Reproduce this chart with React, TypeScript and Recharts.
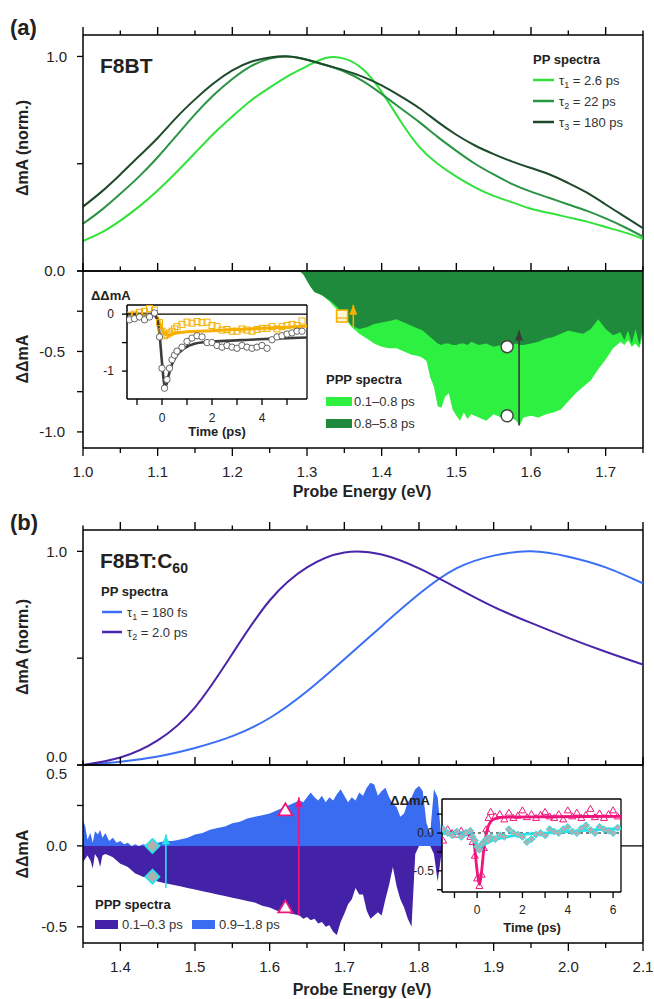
import React from 'react';
import { ComposedChart, Line, Area, Scatter, XAxis, YAxis, ReferenceLine, ReferenceDot } from 'recharts';

const FONT = '"Liberation Sans", Arial, Helvetica, sans-serif';
const INK = '#222';

const C_T1 = '#30e23a';
const C_T2 = '#2a9444';
const C_T3 = '#1d4a2b';
const C_FAST = '#2ef040';
const C_SLOW = '#1f8a3b';
const C_BLUE = '#3b6ff5';
const C_PURPLE = '#4a25aa';
const C_FILL_BLUE = '#3a6cf2';
const C_FILL_PURPLE = '#4322a8';
const C_ORANGE = '#f5b000';
const C_GRAY = '#3d3d3d';
const C_PINK = '#f0157c';
const C_CYAN = '#25e3ea';
const C_DIAMOND = '#b0b0b0';

const PP_A_E = [1.0, 1.025, 1.05, 1.075, 1.1, 1.125, 1.15, 1.175, 1.2, 1.225, 1.25, 1.275, 1.3, 1.325, 1.35, 1.375,
  1.4, 1.425, 1.45, 1.475, 1.5, 1.525, 1.55, 1.575, 1.6, 1.625, 1.65, 1.675, 1.7, 1.725, 1.75];
const PP_A_T1 = [0.14, 0.18, 0.235, 0.3, 0.375, 0.46, 0.55, 0.64, 0.72, 0.795, 0.855, 0.91, 0.955, 0.993, 0.99, 0.94,
  0.835, 0.7, 0.58, 0.5, 0.44, 0.39, 0.35, 0.32, 0.29, 0.27, 0.25, 0.23, 0.205, 0.18, 0.15];
const PP_A_T2 = [0.22, 0.285, 0.36, 0.44, 0.53, 0.63, 0.73, 0.82, 0.895, 0.955, 0.99, 1.0, 0.985, 0.96, 0.93, 0.885,
  0.825, 0.76, 0.695, 0.625, 0.56, 0.5, 0.45, 0.405, 0.37, 0.34, 0.31, 0.28, 0.245, 0.205, 0.16];
const PP_A_T3 = [0.3, 0.37, 0.45, 0.535, 0.62, 0.715, 0.8, 0.875, 0.935, 0.975, 0.995, 1.0, 0.985, 0.96, 0.935, 0.905,
  0.865, 0.815, 0.76, 0.695, 0.635, 0.585, 0.545, 0.51, 0.48, 0.45, 0.41, 0.365, 0.31, 0.255, 0.2];
const PP_A_LEGEND = [
  { n: '1', text: '2.6 ps', color: C_T1 },
  { n: '2', text: '22 ps', color: C_T2 },
  { n: '3', text: '180 ps', color: C_T3 },
];

const PPP_A_E = [
  1.29, 1.295, 1.3, 1.305, 1.31, 1.32, 1.33, 1.34, 1.35, 1.36,
  1.37, 1.38, 1.39, 1.4, 1.41, 1.42, 1.43, 1.44, 1.45, 1.455,
  1.46, 1.465, 1.47, 1.475, 1.48, 1.485, 1.49, 1.495, 1.5, 1.505,
  1.51, 1.515, 1.52, 1.53, 1.54, 1.55, 1.56, 1.57, 1.58, 1.585,
  1.59, 1.6, 1.61, 1.62, 1.63, 1.64, 1.65, 1.66, 1.67, 1.68,
  1.69, 1.7, 1.71, 1.72, 1.725, 1.73, 1.735, 1.74, 1.745, 1.75,
];
const PPP_A_FAST = [
  0, -0.02, -0.06, -0.1, -0.13, -0.15, -0.19, -0.24, -0.29, -0.35,
  -0.39, -0.42, -0.45, -0.47, -0.48, -0.48, -0.5, -0.52, -0.53, -0.54,
  -0.56, -0.66, -0.72, -0.84, -0.85, -0.78, -0.76, -0.86, -0.9, -0.93,
  -0.88, -0.92, -0.89, -0.91, -0.93, -0.89, -0.91, -0.9, -0.93, -0.96,
  -0.91, -0.9, -0.91, -0.89, -0.88, -0.86, -0.81, -0.76, -0.72, -0.68,
  -0.61, -0.55, -0.48, -0.44, -0.46, -0.43, -0.47, -0.45, -0.48, -0.4,
];
const PPP_A_SLOW = [
  0, -0.02, -0.06, -0.1, -0.13, -0.15, -0.18, -0.22, -0.28, -0.34,
  -0.36, -0.35, -0.33, -0.32, -0.31, -0.3, -0.32, -0.34, -0.36, -0.37,
  -0.39, -0.41, -0.43, -0.45, -0.46, -0.45, -0.45, -0.46, -0.46, -0.45,
  -0.45, -0.46, -0.44, -0.46, -0.45, -0.47, -0.46, -0.47, -0.45, -0.46,
  -0.46, -0.45, -0.44, -0.42, -0.41, -0.39, -0.37, -0.38, -0.39, -0.36,
  -0.3, -0.36, -0.4, -0.38, -0.43, -0.37, -0.45, -0.36, -0.46, -0.35,
];
const PPP_A_LEGEND = [
  { text: '0.1–0.8 ps', color: C_FAST },
  { text: '0.8–5.8 ps', color: C_SLOW },
];
const A_CIRCLES = [{ x: 1.568, y: -0.47 }, { x: 1.568, y: -0.9 }];
const A_SQUARES = [{ x: 1.347, y: -0.28 }];
const A_ARROWS = [
  { x: 1.362, y0: -0.35, y1: -0.21, color: C_ORANGE },
  { x: 1.584, y0: -0.96, y1: -0.37, color: '#3a3a3a' },
];

const IA_T = [-1.3, -1.1, -0.9, -0.7, -0.5, -0.3, -0.1, 0.0, 0.1, 0.2, 0.3, 0.4, 0.5, 0.6,
  0.8, 1.0, 1.2, 1.4, 1.6, 1.8, 2.0, 2.2, 2.4, 2.6, 2.8, 3.0, 3.2, 3.4, 3.6, 3.8, 4.0, 4.2, 4.4, 4.6, 4.8, 5.0, 5.2, 5.4, 5.6];
const IA_ORANGE = [-0.02, 0.0, 0.03, 0.05, 0.1, 0.07, -0.15, -0.3, -0.38, -0.36, -0.33, -0.3, -0.26, -0.22,
  -0.18, -0.14, -0.16, -0.13, -0.15, -0.14, -0.2, -0.22, -0.28, -0.27, -0.3, -0.3, -0.26, -0.28, -0.3, -0.27, -0.25, -0.25, -0.22, -0.26, -0.22, -0.2, -0.18, -0.2, -0.12];
const IA_GRAY = [-0.1, -0.08, -0.05, -0.1, -0.05, 0.02, -0.4, -0.95, -1.3, -1.15, -0.95, -0.8, -0.72, -0.65,
  -0.58, -0.48, -0.42, -0.38, -0.4, -0.5, -0.5, -0.55, -0.58, -0.55, -0.58, -0.6, -0.55, -0.58, -0.6, -0.58, -0.55, -0.6, -0.45, -0.4, -0.38, -0.35, -0.33, -0.3, -0.3];
const IA_FIT_GRAY_T = [-1.4, -0.4, -0.2, -0.1, 0, 0.1, 0.15, 0.25, 0.4, 0.6, 0.9, 1.3, 1.8, 2.5, 3.5, 4.5, 5.8];
const IA_FIT_GRAY_V = [0, 0, -0.08, -0.35, -0.85, -1.25, -1.27, -1.1, -0.88, -0.72, -0.6, -0.52, -0.49, -0.47, -0.45, -0.43, -0.41];
const IA_FIT_OR_T = [-1.4, -0.4, -0.2, -0.05, 0.1, 0.25, 0.5, 1.0, 2, 3, 4, 5, 5.8];
const IA_FIT_OR_V = [0, 0, -0.05, -0.2, -0.35, -0.37, -0.34, -0.31, -0.29, -0.27, -0.25, -0.23, -0.21];

const PP_B_E = [1.35, 1.4, 1.45, 1.5, 1.55, 1.6, 1.65, 1.7, 1.75, 1.8, 1.85, 1.9, 1.95, 2.0, 2.05, 2.1];
const PP_B_T1 = [0.0, 0.015, 0.04, 0.08, 0.135, 0.22, 0.345, 0.495, 0.65, 0.8, 0.92, 0.98, 1.0, 0.975, 0.925, 0.85];
const PP_B_T2 = [0.0, 0.035, 0.115, 0.27, 0.52, 0.77, 0.925, 0.995, 0.985, 0.92, 0.83, 0.74, 0.665, 0.595, 0.53, 0.47];
const PP_B_LEGEND = [
  { n: '1', text: '180 fs', color: C_BLUE },
  { n: '2', text: '2.0 ps', color: C_PURPLE },
];

const PPP_B_E = [
  1.35, 1.353, 1.356, 1.36, 1.363, 1.366, 1.37, 1.373, 1.376, 1.38,
  1.385, 1.39, 1.395, 1.4, 1.405, 1.41, 1.415, 1.42, 1.425, 1.43,
  1.44, 1.45, 1.46, 1.47, 1.48, 1.49, 1.5, 1.51, 1.52, 1.53,
  1.54, 1.55, 1.56, 1.57, 1.58, 1.59, 1.6, 1.61, 1.62, 1.63,
  1.64, 1.645, 1.65, 1.655, 1.66, 1.665, 1.67, 1.675, 1.68, 1.685,
  1.69, 1.695, 1.7, 1.705, 1.71, 1.715, 1.72, 1.725, 1.73, 1.735,
  1.74, 1.745, 1.75, 1.755, 1.76, 1.765, 1.77, 1.775, 1.78, 1.785,
  1.79, 1.795, 1.8, 1.805, 1.81, 1.815, 1.82, 1.825, 1.83, 1.84,
];
const PPP_B_LATE = [
  0.16, 0.12, 0.04, 0.08, 0.02, 0.09, 0.07, 0.1, 0.05, 0.08,
  0.03, 0.05, 0.02, 0.03, 0.01, 0.02, 0.0, 0.01, 0.0, 0.01,
  0.0, 0.02, 0.03, 0.03, 0.04, 0.05, 0.07, 0.08, 0.1, 0.11,
  0.12, 0.14, 0.15, 0.17, 0.18, 0.19, 0.2, 0.22, 0.24, 0.26,
  0.28, 0.27, 0.3, 0.33, 0.3, 0.28, 0.31, 0.27, 0.3, 0.28,
  0.32, 0.35, 0.31, 0.27, 0.3, 0.28, 0.33, 0.31, 0.36, 0.39,
  0.38, 0.31, 0.34, 0.36, 0.3, 0.26, 0.24, 0.18, 0.2, 0.27,
  0.3, 0.35, 0.37, 0.34, 0.14, 0.08, 0.35, 0.3, 0.05, 0.1,
];
const PPP_B_EARLY = [
  -0.1, -0.08, -0.06, -0.09, -0.14, -0.05, -0.08, -0.13, -0.06, -0.05,
  -0.06, -0.07, -0.09, -0.11, -0.12, -0.13, -0.15, -0.17, -0.18, -0.19,
  -0.2, -0.22, -0.23, -0.24, -0.25, -0.26, -0.27, -0.28, -0.29, -0.3,
  -0.31, -0.32, -0.33, -0.34, -0.35, -0.37, -0.38, -0.4, -0.41, -0.42,
  -0.43, -0.45, -0.44, -0.46, -0.45, -0.48, -0.47, -0.5, -0.49, -0.53,
  -0.55, -0.47, -0.42, -0.36, -0.33, -0.26, -0.3, -0.3, -0.4, -0.45,
  -0.43, -0.41, -0.43, -0.33, -0.24, -0.13, -0.25, -0.33, -0.38, -0.45,
  -0.5, -0.05, 0, 0, 0, 0, -0.05, -0.22, -0.05, 0,
];
const PPP_B_LEGEND = [
  { text: '0.1–0.3 ps', color: C_FILL_PURPLE },
  { text: '0.9–1.8 ps', color: C_FILL_BLUE },
];
const B_DIAMONDS = [{ x: 1.443, y: 0.0 }, { x: 1.443, y: -0.19 }];
const B_TRIANGLES = [{ x: 1.621, y: 0.22 }, { x: 1.621, y: -0.38 }];
const B_ARROWS = [
  { x: 1.461, y0: -0.26, y1: 0.07, color: C_CYAN },
  { x: 1.639, y0: -0.43, y1: 0.3, color: C_PINK },
];

const IB_T = [-1.5, -1.3, -1.1, -0.9, -0.7, -0.5, -0.3, -0.2, -0.1, 0.0, 0.1, 0.2, 0.3, 0.4, 0.5, 0.6,
  0.8, 1.0, 1.2, 1.4, 1.6, 1.8, 2.0, 2.2, 2.4, 2.6, 2.8, 3.0, 3.2, 3.4, 3.6, 3.8, 4.0, 4.2, 4.4, 4.6, 4.8, 5.0, 5.2, 5.4, 5.6, 5.8, 6.0, 6.2];
const IB_PINK = [-0.1, 0.05, 0.0, -0.02, 0.03, 0.0, -0.05, -0.12, -0.3, -0.6, -0.7, -0.55, -0.2, 0.05, 0.2, 0.28,
  0.22, 0.25, 0.18, 0.27, 0.2, 0.23, 0.3, 0.21, 0.25, 0.2, 0.24, 0.28, 0.22, 0.2, 0.25, 0.18, 0.3, 0.22, 0.27, 0.2, 0.24, 0.32, 0.21, 0.26, 0.2, 0.25, 0.3, 0.22];
const IB_CYAN = [0.05, 0.0, -0.03, 0.02, -0.05, 0.0, 0.03, -0.05, -0.1, -0.18, -0.22, -0.15, -0.12, -0.08, -0.1, -0.05,
  -0.08, -0.03, -0.05, 0.05, 0.0, -0.02, -0.05, -0.12, -0.08, -0.02, 0.0, -0.03, 0.05, 0.02, 0.0, 0.05, 0.08, 0.02, 0.0, 0.06, 0.1, 0.04, 0.0, 0.08, 0.05, 0.03, 0.0, 0.07];
const IB_FIT_PINK_T = [-1.55, -0.3, -0.15, 0, 0.1, 0.2, 0.3, 0.45, 0.6, 0.8, 1.2, 3, 6.35];
const IB_FIT_PINK_V = [0, 0, -0.1, -0.5, -0.68, -0.5, -0.2, 0.05, 0.15, 0.19, 0.21, 0.215, 0.22];
const IB_FIT_CYAN_T = [-1.55, -0.4, -0.2, 0, 0.1, 0.25, 0.5, 1, 1.5, 2, 3, 4, 5, 6.35];
const IB_FIT_CYAN_V = [0, 0, -0.05, -0.15, -0.2, -0.17, -0.12, -0.07, -0.04, -0.02, 0.0, 0.02, 0.04, 0.06];

const X_TICKS_A = [1.0, 1.05, 1.1, 1.15, 1.2, 1.25, 1.3, 1.35, 1.4, 1.45, 1.5, 1.55, 1.6, 1.65, 1.7, 1.75];
const X_TICKS_B = [1.35, 1.4, 1.45, 1.5, 1.55, 1.6, 1.65, 1.7, 1.75, 1.8, 1.85, 1.9, 1.95, 2.0, 2.05, 2.1];
const Y_TICKS_TOP = [0, 0.5, 1.0];
const Y_TICKS_A_BOT = [0, -0.25, -0.5, -0.75, -1.0];
const Y_TICKS_B_BOT = [0.5, 0.25, 0, -0.25, -0.5];
const IA_X_TICKS = [-1, 0, 1, 2, 3, 4, 5];
const IA_Y_TICKS = [0, -0.5, -1];
const IB_X_TICKS = [-1, 0, 1, 2, 3, 4, 5, 6];
const IB_Y_TICKS = [0.25, 0, -0.25, -0.5, -0.75];

const zip = (xs: number[], keys: Record<string, number[]>, xKey: string) =>
  xs.map((x, i) => {
    const row: Record<string, number> = { [xKey]: x };
    Object.keys(keys).forEach((k) => (row[k] = keys[k][i]));
    return row;
  });
const pts = (ts: number[], vs: number[]) => ts.map((t, i) => ({ t, v: vs[i] }));
const isMult = (v: number, step: number) => Math.abs(v / step - Math.round(v / step)) < 1e-6;

type TickOpts = {
  dir: 'down' | 'left';
  major: (v: number) => boolean;
  majorLen: number;
  minorLen: number;
  label?: (v: number) => string | null;
  offset?: number;
  fontSize?: number;
  dy?: (v: number) => number;
};

function makeTick(o: TickOpts) {
  return (props: any) => {
    const { x, y, payload } = props;
    const v = Number(payload.value);
    const maj = o.major(v);
    const len = maj ? o.majorLen : o.minorLen;
    const x2 = o.dir === 'left' ? x - len : x;
    const y2 = o.dir === 'down' ? y + len : y;
    const lab = o.label ? o.label(v) : null;
    const fs = o.fontSize ?? 15;
    const dy = o.dy ? o.dy(v) : 0;
    return (
      <g>
        <line x1={x} y1={y} x2={x2} y2={y2} stroke="#000" strokeWidth={1.3} />
        {lab != null && o.dir === 'down' && (
          <text x={x} y={y + (o.offset ?? 29)} textAnchor="middle" fontSize={fs} fill={INK} fontFamily={FONT}>
            {lab}
          </text>
        )}
        {lab != null && o.dir === 'left' && (
          <text x={x - (o.offset ?? 16)} y={y + dy} dy="0.36em" textAnchor="end" fontSize={fs} fill={INK} fontFamily={FONT}>
            {lab}
          </text>
        )}
      </g>
    );
  };
}

// tick marks on frame edges without a labelled axis, placed through the chart scales
const TICK_MAJ_PX = 8;
const TICK_MIN_PX = 4.5;
function edgeTicks(ticks: number[], yEdge: number, unitsPerPx: number, prefix: string) {
  return ticks.map((v, i) => {
    const len = (isMult(v, 0.1) ? TICK_MAJ_PX : TICK_MIN_PX) * unitsPerPx;
    return (
      <ReferenceLine key={prefix + i} segment={[{ x: v, y: yEdge }, { x: v, y: yEdge + len }]} stroke="#000" strokeWidth={1.4} ifOverflow="visible" />
    );
  });
}

const AX = {
  tickLine: false,
  tickSize: 0,
  tickMargin: 0,
  interval: 0 as const,
  allowDataOverflow: true,
  axisLine: { stroke: '#000', strokeWidth: 1.5 },
};

const energyTickDown = makeTick({
  dir: 'down',
  major: (v) => isMult(v, 0.1),
  majorLen: 8,
  minorLen: 5,
  label: (v) => (isMult(v, 0.1) ? v.toFixed(1) : null),
  offset: 29,
});

const arrowHead = (color: string) => (p: any) => (
  <path d={`M${p.cx},${p.cy} L${p.cx - 4},${p.cy + 10} L${p.cx + 4},${p.cy + 10} Z`} fill={color} />
);
const squareShape = (p: any) => (
  <g>
    <rect x={p.cx - 5.5} y={p.cy - 6} width={11} height={12} fill="#fff6d8" stroke={C_ORANGE} strokeWidth={1.6} />
    <line x1={p.cx - 5.5} x2={p.cx + 5.5} y1={p.cy + 2} y2={p.cy + 2} stroke={C_ORANGE} strokeWidth={1.2} />
  </g>
);
const diamondShape = (p: any) => (
  <path d={`M${p.cx},${p.cy - 7} L${p.cx + 7},${p.cy} L${p.cx},${p.cy + 7} L${p.cx - 7},${p.cy} Z`} fill={C_DIAMOND} stroke={C_CYAN} strokeWidth={1.8} />
);
const triangleShape = (p: any) => (
  <path d={`M${p.cx},${p.cy - 7} L${p.cx + 7},${p.cy + 5} L${p.cx - 7},${p.cy + 5} Z`} fill="#fff" stroke={C_PINK} strokeWidth={1.8} />
);
const smallSquare = (p: any) => (
  <rect x={p.cx - 3} y={p.cy - 3} width={6} height={6} fill="none" stroke={C_ORANGE} strokeWidth={1} />
);
const smallCircle = (p: any) => <circle cx={p.cx} cy={p.cy} r={3.2} fill="#fff" stroke="#555" strokeWidth={0.9} />;
const smallTriangle = (p: any) => (
  <path d={`M${p.cx},${p.cy - 3.5} L${p.cx + 3.5},${p.cy + 2.5} L${p.cx - 3.5},${p.cy + 2.5} Z`} fill="none" stroke={C_PINK} strokeWidth={1} />
);
const smallDiamond = (p: any) => (
  <path d={`M${p.cx},${p.cy - 3.5} L${p.cx + 3.5},${p.cy} L${p.cx},${p.cy + 3.5} L${p.cx - 3.5},${p.cy} Z`} fill={C_DIAMOND} stroke={C_CYAN} strokeWidth={1} />
);

const Abs = ({ left, top, children }: { left: number; top: number; children: React.ReactNode }) => (
  <div style={{ position: 'absolute', left, top }}>{children}</div>
);

const Tau = ({ x, y, n, text }: { x: number; y: number; n: string; text: string }) => (
  <text x={x} y={y} fontSize={13} fill="#333">
    τ
    <tspan fontSize={9} dy={3}>{n}</tspan>
    <tspan dy={-3}>{' = ' + text}</tspan>
  </text>
);

export default function App() {
  const ppA = zip(PP_A_E, { t1: PP_A_T1, t2: PP_A_T2, t3: PP_A_T3 }, 'e');
  const pppA = zip(PPP_A_E, { fast: PPP_A_FAST, slow: PPP_A_SLOW }, 'e');
  const ppB = zip(PP_B_E, { t1: PP_B_T1, t2: PP_B_T2 }, 'e');
  const pppB = zip(PPP_B_E, { late: PPP_B_LATE, early: PPP_B_EARLY }, 'e');

  const unitA1 = 1.1 / 236;
  const unitA2 = 1.1 / 177;
  const unitB1 = 1.1 / 235;
  const unitB2 = 1.1 / 178;

  return (
    <div style={{ position: 'absolute', left: 0, top: 0, width: 654, height: 999, background: '#fff', fontFamily: FONT, overflow: 'hidden' }}>
      <Abs left={0} top={0}>
        <ComposedChart width={654} height={292} data={ppA} margin={{ top: 35, right: 11, bottom: 20, left: 0 }}>
          <XAxis {...AX} type="number" dataKey="e" domain={[1.0, 1.75]} ticks={X_TICKS_A} height={1} tick={false} />
          <YAxis {...AX} type="number" domain={[0, 1.1]} ticks={Y_TICKS_TOP} width={83}
            tick={makeTick({ dir: 'left', major: () => true, majorLen: 6, minorLen: 6, label: (v) => (v === 1 ? '1.0' : null), offset: 16 })} />
          <ReferenceLine segment={[{ x: 1.0, y: 1.1 }, { x: 1.75, y: 1.1 }]} stroke="#000" strokeWidth={1.5} ifOverflow="visible" />
          <ReferenceLine segment={[{ x: 1.75, y: 0 }, { x: 1.75, y: 1.1 }]} stroke="#000" strokeWidth={1.5} ifOverflow="visible" />
          {edgeTicks(X_TICKS_A, 1.1, unitA1, 'ta')}
          <Line type="natural" dataKey="t1" stroke={C_T1} strokeWidth={2} dot={false} isAnimationActive={false} />
          <Line type="natural" dataKey="t2" stroke={C_T2} strokeWidth={2} dot={false} isAnimationActive={false} />
          <Line type="natural" dataKey="t3" stroke={C_T3} strokeWidth={2} dot={false} isAnimationActive={false} />
        </ComposedChart>
      </Abs>

      <Abs left={0} top={250}>
        <ComposedChart width={654} height={254} data={pppA} margin={{ top: 21, right: 11, bottom: 55, left: 0 }}>
          <XAxis {...AX} type="number" dataKey="e" domain={[1.0, 1.75]} ticks={X_TICKS_A} height={1} tick={energyTickDown} />
          <YAxis {...AX} type="number" domain={[-1.1, 0]} ticks={Y_TICKS_A_BOT} width={83}
            tick={makeTick({ dir: 'left', major: () => true, majorLen: 6, minorLen: 6, label: (v) => (isMult(v, 0.5) ? v.toFixed(1) : null), offset: 18 })} />
          <Area type="linear" dataKey="fast" fill={C_FAST} fillOpacity={1} stroke="none" baseValue={0} isAnimationActive={false} />
          <Area type="linear" dataKey="slow" fill={C_SLOW} fillOpacity={1} stroke="none" baseValue={0} isAnimationActive={false} />
          <ReferenceLine segment={[{ x: 1.0, y: 0 }, { x: 1.75, y: 0 }]} stroke="#000" strokeWidth={1.5} ifOverflow="visible" />
          <ReferenceLine segment={[{ x: 1.75, y: -1.1 }, { x: 1.75, y: 0 }]} stroke="#000" strokeWidth={1.5} ifOverflow="visible" />
          {edgeTicks(X_TICKS_A, 0, unitA2, 'ba')}
          {A_ARROWS.map((a, i) => (
            <ReferenceLine key={'al' + i} segment={[{ x: a.x, y: a.y0 }, { x: a.x, y: a.y1 }]} stroke={a.color} strokeWidth={1.6} ifOverflow="visible" />
          ))}
          {A_ARROWS.map((a, i) => (
            <ReferenceDot key={'ah' + i} x={a.x} y={a.y1} r={4} shape={arrowHead(a.color)} ifOverflow="visible" />
          ))}
          {A_SQUARES.map((s, i) => (
            <ReferenceDot key={'sq' + i} x={s.x} y={s.y} r={6} shape={squareShape} ifOverflow="visible" />
          ))}
          {A_CIRCLES.map((c, i) => (
            <ReferenceDot key={'ci' + i} x={c.x} y={c.y} r={6} fill="#fff" stroke="#444" strokeWidth={1.5} ifOverflow="visible" />
          ))}
        </ComposedChart>
      </Abs>

      <Abs left={0} top={500}>
        <ComposedChart width={654} height={286} data={ppB} margin={{ top: 30, right: 11, bottom: 20, left: 0 }}>
          <XAxis {...AX} type="number" dataKey="e" domain={[1.35, 2.1]} ticks={X_TICKS_B} height={1} tick={false} />
          <YAxis {...AX} type="number" domain={[0, 1.1]} ticks={Y_TICKS_TOP} width={83}
            tick={makeTick({ dir: 'left', major: () => true, majorLen: 6, minorLen: 6, label: (v) => (v === 1 ? '1.0' : v === 0 ? '0.0' : null), dy: (v) => (v === 0 ? -8 : 0), offset: 16 })} />
          <ReferenceLine segment={[{ x: 1.35, y: 1.1 }, { x: 2.1, y: 1.1 }]} stroke="#000" strokeWidth={1.5} ifOverflow="visible" />
          <ReferenceLine segment={[{ x: 2.1, y: 0 }, { x: 2.1, y: 1.1 }]} stroke="#000" strokeWidth={1.5} ifOverflow="visible" />
          {edgeTicks(X_TICKS_B, 1.1, unitB1, 'tb')}
          <Line type="natural" dataKey="t1" stroke={C_BLUE} strokeWidth={2} dot={false} isAnimationActive={false} />
          <Line type="natural" dataKey="t2" stroke={C_PURPLE} strokeWidth={2} dot={false} isAnimationActive={false} />
        </ComposedChart>
      </Abs>

      <Abs left={0} top={745}>
        <ComposedChart width={654} height={234} data={pppB} margin={{ top: 20, right: 11, bottom: 35, left: 0 }}>
          <XAxis {...AX} type="number" dataKey="e" domain={[1.35, 2.1]} ticks={X_TICKS_B} height={1} tick={energyTickDown} />
          <YAxis {...AX} type="number" domain={[-0.6, 0.5]} ticks={Y_TICKS_B_BOT} width={83}
            tick={makeTick({ dir: 'left', major: () => true, majorLen: 6, minorLen: 6, label: (v) => (isMult(v, 0.5) ? v.toFixed(1) : null), dy: (v) => (v === 0.5 ? 9 : 0), offset: 16 })} />
          <Area type="linear" dataKey="early" fill={C_FILL_PURPLE} fillOpacity={1} stroke="none" baseValue={0} isAnimationActive={false} />
          <Area type="linear" dataKey="late" fill={C_FILL_BLUE} fillOpacity={1} stroke="none" baseValue={0} isAnimationActive={false} />
          <ReferenceLine segment={[{ x: 1.35, y: 0.5 }, { x: 2.1, y: 0.5 }]} stroke="#000" strokeWidth={1.5} ifOverflow="visible" />
          <ReferenceLine segment={[{ x: 1.84, y: 0 }, { x: 2.1, y: 0 }]} stroke="#000" strokeWidth={1.3} ifOverflow="visible" />
          <ReferenceLine segment={[{ x: 2.1, y: -0.6 }, { x: 2.1, y: 0.5 }]} stroke="#000" strokeWidth={1.5} ifOverflow="visible" />
          {edgeTicks(X_TICKS_B, 0.5, unitB2, 'bb')}
          {B_ARROWS.map((a, i) => (
            <ReferenceLine key={'bl' + i} segment={[{ x: a.x, y: a.y0 }, { x: a.x, y: a.y1 }]} stroke={a.color} strokeWidth={1.6} ifOverflow="visible" />
          ))}
          {B_ARROWS.map((a, i) => (
            <ReferenceDot key={'bh' + i} x={a.x} y={a.y1} r={4} shape={arrowHead(a.color)} ifOverflow="visible" />
          ))}
          {B_DIAMONDS.map((d, i) => (
            <ReferenceDot key={'bd' + i} x={d.x} y={d.y} r={6} shape={diamondShape} ifOverflow="visible" />
          ))}
          {B_TRIANGLES.map((d, i) => (
            <ReferenceDot key={'bt' + i} x={d.x} y={d.y} r={6} shape={triangleShape} ifOverflow="visible" />
          ))}
        </ComposedChart>
      </Abs>

      <div style={{ position: 'absolute', left: 127, top: 305, width: 180, height: 94, background: '#fff' }} />
      <Abs left={60} top={280}>
        <ComposedChart width={257} height={160} margin={{ top: 25, right: 10, bottom: 40, left: 0 }}>
          <XAxis {...AX} type="number" dataKey="t" domain={[-1.4, 5.8]} ticks={IA_X_TICKS} height={1}
            tick={makeTick({ dir: 'down', major: () => true, majorLen: 6, minorLen: 6, label: (v) => (isMult(v, 2) ? String(v) : null), offset: 23, fontSize: 12 })} />
          <YAxis {...AX} type="number" domain={[-1.49, 0.16]} ticks={IA_Y_TICKS} width={67}
            tick={makeTick({ dir: 'left', major: () => true, majorLen: 5, minorLen: 5, label: (v) => (isMult(v, 1) ? String(v) : null), offset: 13, fontSize: 12 })} />
          <ReferenceLine segment={[{ x: -1.4, y: 0.16 }, { x: 5.8, y: 0.16 }]} stroke="#000" strokeWidth={1.3} ifOverflow="visible" />
          <ReferenceLine segment={[{ x: 5.8, y: -1.49 }, { x: 5.8, y: 0.16 }]} stroke="#000" strokeWidth={1.3} ifOverflow="visible" />
          <ReferenceLine y={0} stroke="#000" strokeWidth={1.2} />
          <Scatter data={pts(IA_T, IA_ORANGE)} dataKey="v" shape={smallSquare} isAnimationActive={false} />
          <Scatter data={pts(IA_T, IA_GRAY)} dataKey="v" shape={smallCircle} isAnimationActive={false} />
          <Line data={pts(IA_FIT_OR_T, IA_FIT_OR_V)} type="monotone" dataKey="v" stroke={C_ORANGE} strokeWidth={3} dot={false} isAnimationActive={false} />
          <Line data={pts(IA_FIT_GRAY_T, IA_FIT_GRAY_V)} type="monotone" dataKey="v" stroke={C_GRAY} strokeWidth={2.6} dot={false} isAnimationActive={false} />
        </ComposedChart>
      </Abs>

      <div style={{ position: 'absolute', left: 442, top: 799, width: 179, height: 93, background: '#fff' }} />
      <Abs left={380} top={780}>
        <ComposedChart width={251} height={153} margin={{ top: 19, right: 10, bottom: 40, left: 0 }}>
          <XAxis {...AX} type="number" dataKey="t" domain={[-1.55, 6.35]} ticks={IB_X_TICKS} height={1}
            tick={makeTick({ dir: 'down', major: () => true, majorLen: 6, minorLen: 6, label: (v) => (isMult(v, 2) ? String(v) : null), offset: 22, fontSize: 12 })} />
          <YAxis {...AX} type="number" domain={[-0.78, 0.45]} ticks={IB_Y_TICKS} width={62}
            tick={makeTick({ dir: 'left', major: () => true, majorLen: 5, minorLen: 5, label: (v) => (isMult(v, 0.5) ? v.toFixed(1) : null), offset: 8, fontSize: 12 })} />
          <ReferenceLine segment={[{ x: -1.55, y: 0.45 }, { x: 6.35, y: 0.45 }]} stroke="#000" strokeWidth={1.3} ifOverflow="visible" />
          <ReferenceLine segment={[{ x: 6.35, y: -0.78 }, { x: 6.35, y: 0.45 }]} stroke="#000" strokeWidth={1.3} ifOverflow="visible" />
          <ReferenceLine y={0} stroke="#000" strokeWidth={1.2} strokeDasharray="3 3" />
          <Scatter data={pts(IB_T, IB_PINK)} dataKey="v" shape={smallTriangle} isAnimationActive={false} />
          <Scatter data={pts(IB_T, IB_CYAN)} dataKey="v" shape={smallDiamond} isAnimationActive={false} />
          <Line data={pts(IB_FIT_PINK_T, IB_FIT_PINK_V)} type="monotone" dataKey="v" stroke={C_PINK} strokeWidth={2.8} dot={false} isAnimationActive={false} />
          <Line data={pts(IB_FIT_CYAN_T, IB_FIT_CYAN_V)} type="monotone" dataKey="v" stroke={C_CYAN} strokeWidth={2.8} dot={false} isAnimationActive={false} />
        </ComposedChart>
      </Abs>

      <svg width={654} height={999} style={{ position: 'absolute', left: 0, top: 0, pointerEvents: 'none', fontFamily: FONT }}>
        <text x={10} y={35} fontSize={22} fontWeight="bold" fill={INK}>(a)</text>
        <text x={100} y={73} fontSize={21} fontWeight="bold" fill={INK}>F8BT</text>
        <text x={533} y={64} fontSize={13} fontWeight="bold" fill={INK}>PP spectra</text>
        {PP_A_LEGEND.map((l, i) => (
          <g key={'la' + i}>
            <line x1={533} x2={554} y1={80 + i * 21} y2={80 + i * 21} stroke={l.color} strokeWidth={2.5} />
            <Tau x={559} y={85 + i * 21} n={l.n} text={l.text} />
          </g>
        ))}
        <text x={326} y={384} fontSize={13} fontWeight="bold" fill={INK}>PPP spectra</text>
        {PPP_A_LEGEND.map((l, i) => (
          <g key={'lpa' + i}>
            <rect x={326} y={397 + i * 22} width={26} height={9} fill={l.color} />
            <text x={354} y={406 + i * 22} fontSize={13} fill="#333">{l.text}</text>
          </g>
        ))}
        <text transform="translate(28,148) rotate(-90)" textAnchor="middle" fontSize={16} fontWeight="bold" fill={INK}>ΔmA (norm.)</text>
        <text transform="translate(28,359) rotate(-90)" textAnchor="middle" fontSize={16} fontWeight="bold" fill={INK}>ΔΔmA</text>
        <text x={91} y={300} fontSize={13} fontWeight="bold" fill={INK}>ΔΔmA</text>
        <text x={217} y={436} textAnchor="middle" fontSize={13} fontWeight="bold" fill={INK}>Time (ps)</text>
        <text x={362} y={497} textAnchor="middle" fontSize={16} fontWeight="bold" fill={INK}>Probe Energy (eV)</text>

        <text x={10} y={530} fontSize={22} fontWeight="bold" fill={INK}>(b)</text>
        <text x={100} y={568} fontSize={21} fontWeight="bold" fill={INK}>
          F8BT:C<tspan fontSize={14} dy={5}>60</tspan>
        </text>
        <text x={101} y={596} fontSize={13} fontWeight="bold" fill={INK}>PP spectra</text>
        {PP_B_LEGEND.map((l, i) => (
          <g key={'lb' + i}>
            <line x1={102} x2={122} y1={612 + i * 20} y2={612 + i * 20} stroke={l.color} strokeWidth={2.5} />
            <Tau x={127} y={617 + i * 20} n={l.n} text={l.text} />
          </g>
        ))}
        <text transform="translate(28,647) rotate(-90)" textAnchor="middle" fontSize={16} fontWeight="bold" fill={INK}>ΔmA (norm.)</text>
        <text transform="translate(28,854) rotate(-90)" textAnchor="middle" fontSize={16} fontWeight="bold" fill={INK}>ΔΔmA</text>
        <text x={95} y={909} fontSize={13} fontWeight="bold" fill={INK}>PPP spectra</text>
        {PPP_B_LEGEND.map((l, i) => (
          <g key={'lpb' + i}>
            <rect x={95 + i * 97} y={920} width={23} height={9} fill={l.color} />
            <text x={122 + i * 97} y={929} fontSize={13} fill="#333">{l.text}</text>
          </g>
        ))}
        <text x={430} y={805} textAnchor="end" fontSize={13} fontWeight="bold" fill={INK}>ΔΔmA</text>
        <text x={532} y={932} textAnchor="middle" fontSize={13} fontWeight="bold" fill={INK}>Time (ps)</text>
        <text x={362} y={995} textAnchor="middle" fontSize={16} fontWeight="bold" fill={INK}>Probe Energy (eV)</text>
      </svg>
    </div>
  );
}
